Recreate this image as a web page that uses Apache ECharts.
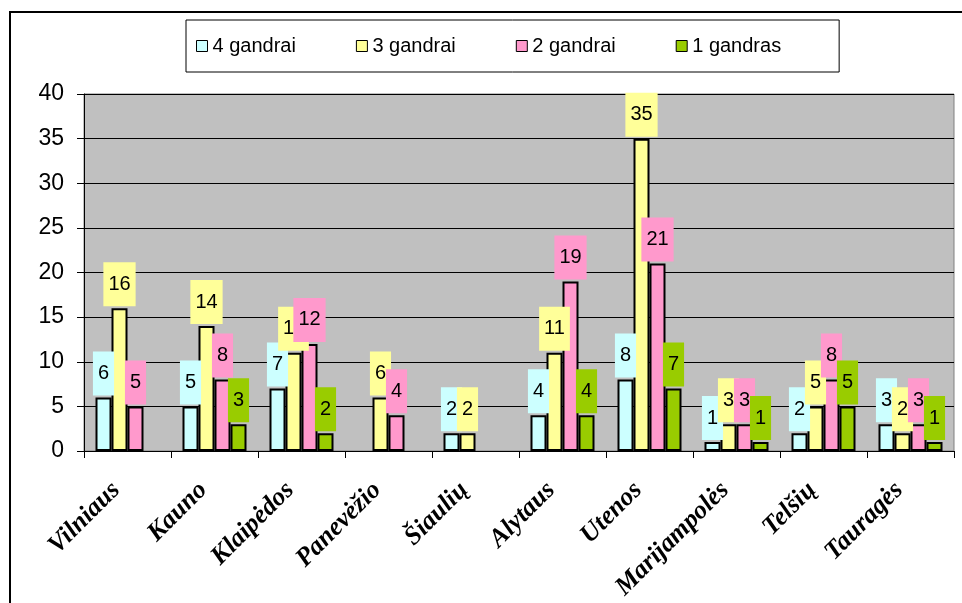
<!DOCTYPE html>
<html>
<head>
<meta charset="utf-8">
<script src="https://cdn.jsdelivr.net/npm/echarts@6/dist/echarts.min.js"></script>
<style>
  html, body { margin: 0; padding: 0; background: #fff; }
  #chart { width: 962px; height: 603px; }
</style>
</head>
<body>
<div id="chart"></div>
<script>
const categories = ['Vilniaus', 'Kauno', 'Klaipėdos', 'Panevėžio', 'Šiaulių', 'Alytaus', 'Utenos', 'Marijampolės', 'Telšių', 'Tauragės'];
const seriesNames = ['4 gandrai', '3 gandrai', '2 gandrai', '1 gandras'];
const gandrai4 = [6, 5, 7, null, 2, 4, 8, 1, 2, 3];
const gandrai3 = [16, 14, 11, 6, 2, 11, 35, 3, 5, 2];
const gandrai2 = [5, 8, 12, 4, null, 19, 21, 3, 8, 3];
const gandras1 = [null, 3, 2, null, null, 4, 7, 1, 5, 1];
const yMin = 0, yMax = 40, yStep = 5;

const colors = ['#CCFFFF', '#FFFF99', '#FF99CC', '#99CC00'];
const values = [gandrai4, gandrai3, gandrai2, gandras1];

const chart = echarts.init(document.getElementById('chart'), null, { renderer: 'canvas' });

const series = values.map((v, i) => ({
  name: seriesNames[i],
  type: 'bar',
  data: v,
  barWidth: 16,
  barGap: '0%',
  itemStyle: { color: colors[i], borderColor: '#000', borderWidth: 2 },
  label: {
    show: true,
    position: 'top',
    distance: 2,
    color: '#000',
    fontFamily: 'Liberation Sans, Arial, sans-serif',
    fontSize: 20,
    lineHeight: 20,
    backgroundColor: colors[i],
    padding: [12, 5, 12, 5]
  },
  emphasis: { disabled: true }
}));

chart.setOption({
  animation: false,
  backgroundColor: '#ffffff',
  graphic: [{
    type: 'rect',
    shape: { x: 10, y: 12, width: 1200, height: 1200 },
    style: { fill: 'none', stroke: '#000', lineWidth: 2 },
    silent: true,
    z: 100
  }],
  legend: {
    left: 186,
    top: 20,
    padding: [16, 58, 16, 10],
    itemGap: 60,
    itemWidth: 11,
    itemHeight: 11,
    icon: 'rect',
    borderColor: '#000',
    borderWidth: 1,
    itemStyle: { borderColor: '#000', borderWidth: 1 },
    textStyle: { fontFamily: 'Liberation Sans, Arial, sans-serif', fontSize: 20, color: '#000' },
    data: seriesNames
  },
  grid: {
    left: 84, right: 8, top: 94, bottom: 152,
    containLabel: false,
    outerBoundsMode: 'none',
    show: true,
    backgroundColor: '#C0C0C0',
    borderColor: '#808080',
    borderWidth: 1
  },
  xAxis: {
    type: 'category',
    data: categories,
    boundaryGap: true,
    axisLine: { lineStyle: { color: '#000', width: 1 } },
    axisTick: { show: true, length: 7, lineStyle: { color: '#000' } },
    axisLabel: {
      interval: 0,
      rotate: 45,
      margin: 24,
      padding: [0, 16, 0, 0],
      fontFamily: 'Liberation Serif, Times New Roman, serif',
      fontStyle: 'italic',
      fontWeight: 'bold',
      fontSize: 26,
      color: '#000'
    }
  },
  yAxis: {
    type: 'value',
    min: yMin,
    max: yMax,
    interval: yStep,
    axisLine: { show: true, lineStyle: { color: '#000', width: 1 } },
    axisTick: { show: true, length: 7, lineStyle: { color: '#000' } },
    axisLabel: {
      margin: 20,
      fontFamily: 'Liberation Sans, Arial, sans-serif',
      fontSize: 23,
      color: '#000'
    },
    splitLine: { show: true, lineStyle: { color: '#000', width: 1 } }
  },
  series: series
});
</script>
</body>
</html>
